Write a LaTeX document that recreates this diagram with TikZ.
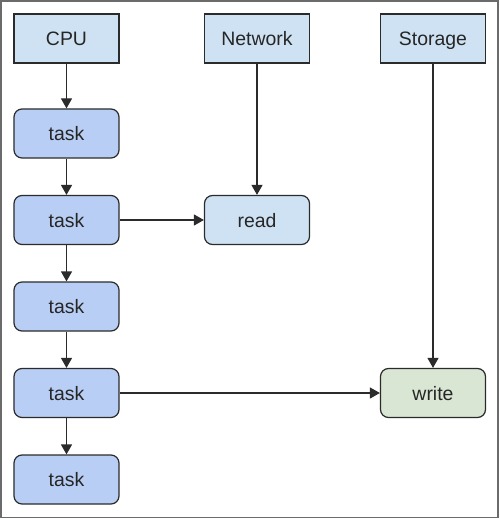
\documentclass[tikz,border=0pt]{standalone}
\usepackage{fontspec}
\setmainfont{Liberation Sans}
\usetikzlibrary{arrows.meta}
\definecolor{hdrfill}{HTML}{CFE2F3}
\definecolor{taskfill}{HTML}{B8CEF4}
\definecolor{wfill}{HTML}{D9E6D3}
\definecolor{edge}{HTML}{2B2B2B}
\definecolor{frame}{HTML}{6B6B6B}
\tikzset{
  base/.style={draw=edge, line width=1.2bp, minimum width=105bp, minimum height=49bp,
    inner sep=0pt, text height=14bp, text depth=0pt,
    font=\fontsize{19.5}{22}\selectfont, text=black!85},
  hdr/.style={base, fill=hdrfill},
  taskbox/.style={base, fill=taskfill, rounded corners=8bp},
  readbox/.style={base, fill=hdrfill, rounded corners=8bp},
  writebox/.style={base, fill=wfill, rounded corners=8bp},
  conn/.style={draw=edge, line width=1.2bp, -{Triangle[length=10bp,width=11bp]}},
}
\begin{document}
\begin{tikzpicture}[x=1bp,y=-1bp]
\useasboundingbox (0,0) rectangle (500,519);
\draw[frame, line width=1.5bp] (1,1) rectangle (498,517.5);
\node[hdr] (cpu) at (66.5,38.5) {CPU};
\node[hdr] (net) at (257,38.5) {Network};
\node[hdr] (sto) at (433,38.5) {Storage};
\node[taskbox] (t1) at (66.5,133.5) {task};
\node[taskbox] (t2) at (66.5,220) {task};
\node[taskbox] (t3) at (66.5,306.5) {task};
\node[taskbox] (t4) at (66.5,393) {task};
\node[taskbox] (t5) at (66.5,479.5) {task};
\node[readbox] (rd) at (257,220) {read};
\node[writebox] (wr) at (433,393) {write};
\draw[conn] (cpu) -- (t1);
\draw[conn] (t1) -- (t2);
\draw[conn] (t2) -- (t3);
\draw[conn] (t3) -- (t4);
\draw[conn] (t4) -- (t5);
\draw[conn] (t2) -- (rd);
\draw[conn] (t4) -- (wr);
\draw[conn] (net) -- (rd);
\draw[conn] (sto) -- (wr);
\end{tikzpicture}
\end{document}
